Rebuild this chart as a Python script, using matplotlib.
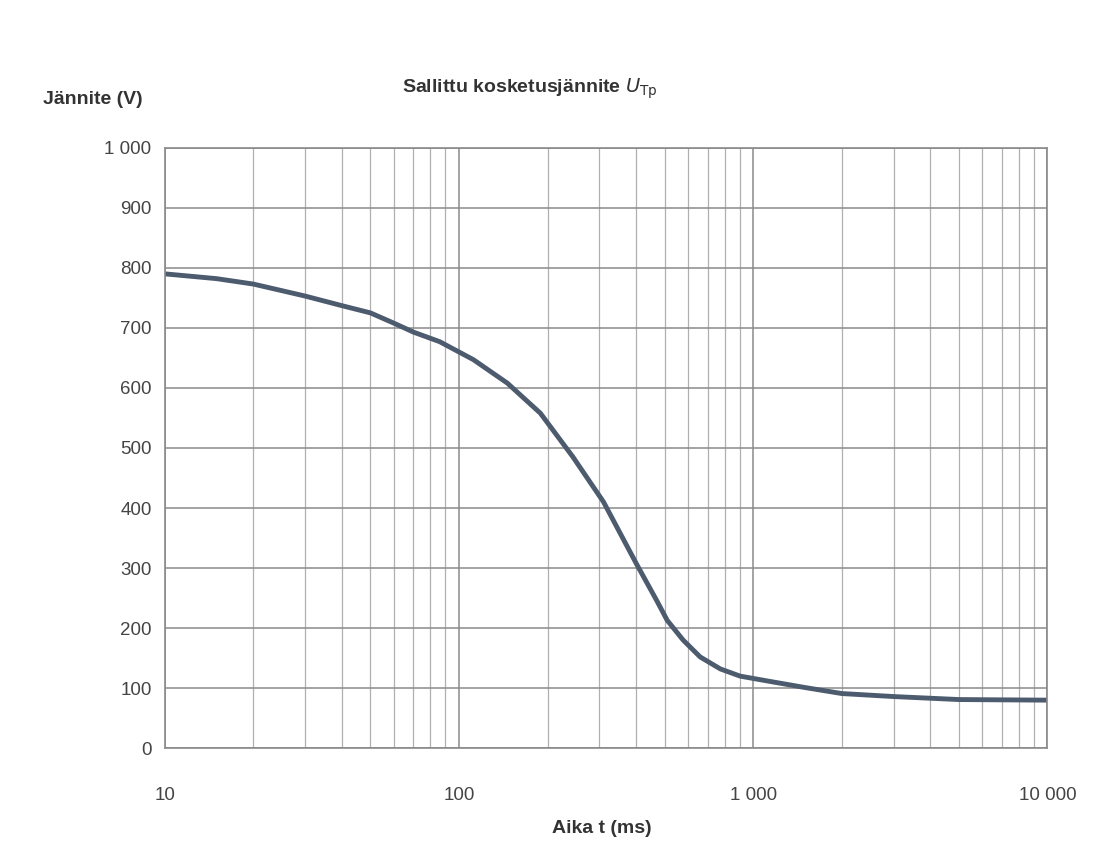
import matplotlib.pyplot as plt
from matplotlib.ticker import FixedLocator, NullFormatter

plt.rcParams['font.family'] = ['Liberation Sans', 'DejaVu Sans']

# luettu kuvasta: aika (ms) ja sallittu jännite (V)
aika_ms = [10, 15, 20, 30, 40, 50, 60, 70, 86, 112, 146, 189, 244, 310, 353,
           400, 471, 510, 578, 660, 773, 903, 1116, 1500, 2000, 3000, 5000, 10000]
jannite_v = [790, 782, 773, 753, 737, 725, 708, 693, 677, 647, 608, 558, 485, 410, 358,
             308, 245, 213, 180, 152, 132, 120, 112, 101, 91, 86, 81, 80]

x_ticks = [10, 100, 1000, 10000]
x_labels = ['10', '100', '1 000', '10 000']
y_ticks = list(range(0, 1001, 100))
y_labels = ['0', '100', '200', '300', '400', '500', '600', '700', '800', '900', '1 000']

fig = plt.figure(figsize=(10.98, 8.59), dpi=100)
ax = fig.add_axes([0.150, 0.129, 0.804, 0.699])

ax.set_xscale('log')
ax.set_xlim(10, 10000)
ax.set_ylim(0, 1000)

ax.xaxis.set_major_locator(FixedLocator(x_ticks))
ax.set_xticklabels(x_labels)
minors = [m * d for d in (10, 100, 1000) for m in range(2, 10)]
ax.xaxis.set_minor_locator(FixedLocator(minors))
ax.xaxis.set_minor_formatter(NullFormatter())
ax.set_yticks(y_ticks)
ax.set_yticklabels(y_labels)

ax.grid(True, which='major', axis='both', color='#8a8a8a', lw=1.1)
ax.grid(True, which='minor', axis='x', color='#b0b0b0', lw=0.9)
ax.set_axisbelow(True)

for s in ax.spines.values():
    s.set_color('#8a8a8a')
    s.set_linewidth(1.2)

ax.tick_params(axis='both', which='both', length=0, labelsize=13.5, colors='#444444')
ax.tick_params(axis='x', pad=28)
ax.tick_params(axis='y', pad=9.5)

ax.plot(aika_ms, jannite_v, color='#4d5b6e', lw=3.5, solid_capstyle='butt')

fig.text(0.039, 0.884, 'Jännite (V)', fontsize=14, fontweight='bold', color='#333333', va='center')
fig.text(0.366, 0.897, r'Sallittu kosketusjännite $\mathit{U}_{\mathrm{Tp}}$',
         fontsize=14, fontweight='bold', color='#333333', ha='left', va='center')
fig.text(0.548, 0.036, 'Aika t (ms)', fontsize=14, fontweight='bold', color='#333333',
         ha='center', va='center')

plt.savefig('out.png', dpi=100)
plt.close()
